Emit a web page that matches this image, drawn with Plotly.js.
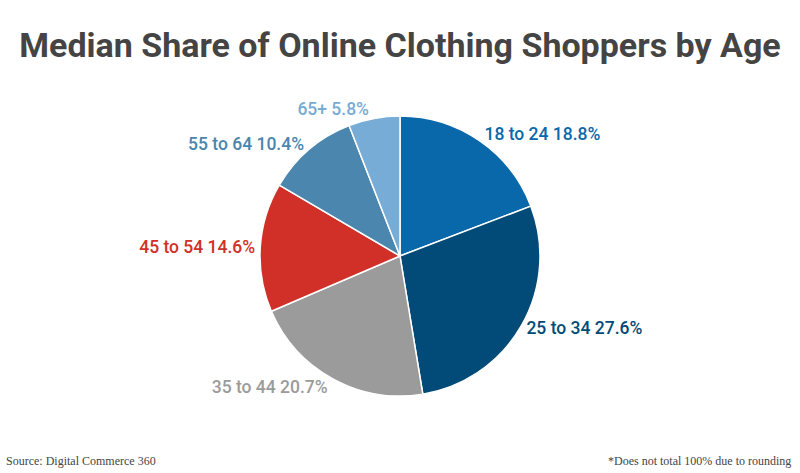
<!DOCTYPE html>
<html><head><meta charset="utf-8">
<script src="https://cdn.plot.ly/plotly-3.0.1.min.js"></script>
<style>html,body{margin:0;padding:0;background:#fff}#chart{width:800px;height:473px}</style>
</head><body><div id="chart"></div>
<script>
const categories = ["18 to 24", "25 to 34", "35 to 44", "45 to 54", "55 to 64", "65+"];
const shares = [18.8, 27.6, 20.7, 14.6, 10.4, 5.8];
const sliceColors = ["#0868aa", "#024b78", "#9b9b9b", "#d13028", "#4a86ae", "#76acd5"];

const data = [{
  type: "pie",
  labels: categories,
  values: shares,
  sort: false,
  direction: "clockwise",
  rotation: 0,
  marker: {colors: sliceColors, line: {color: "#ffffff", width: 1.5}},
  textposition: "outside",
  texttemplate: "%{label} %{value}%",
  outsidetextfont: {family: "Roboto", size: 17.5, weight: 500, color: sliceColors},
  hoverinfo: "label+value",
  showlegend: false
}];

const layout = {
  width: 800, height: 473,
  margin: {l: 120, r: 120, t: 116, b: 77},
  paper_bgcolor: "#fff",
  title: {text: "<b>Median Share of Online Clothing Shoppers by Age</b>", x: 0.5, y: 0.905, yanchor: "middle",
          font: {family: "Roboto", size: 34, color: "#444"}},
  annotations: [
    {text: "Source: Digital Commerce 360", xref: "paper", yref: "paper", x: -0.207, y: -0.232,
     xanchor: "left", yanchor: "middle", showarrow: false, font: {family: "Liberation Serif", size: 12, color: "#444"}},
    {text: "*Does not total 100% due to rounding", xref: "paper", yref: "paper", x: 1.202, y: -0.232,
     xanchor: "right", yanchor: "middle", showarrow: false, font: {family: "Liberation Serif", size: 12, color: "#444"}}
  ]
};
Plotly.newPlot("chart", data, layout, {displayModeBar: false, staticPlot: true});
</script></body></html>
